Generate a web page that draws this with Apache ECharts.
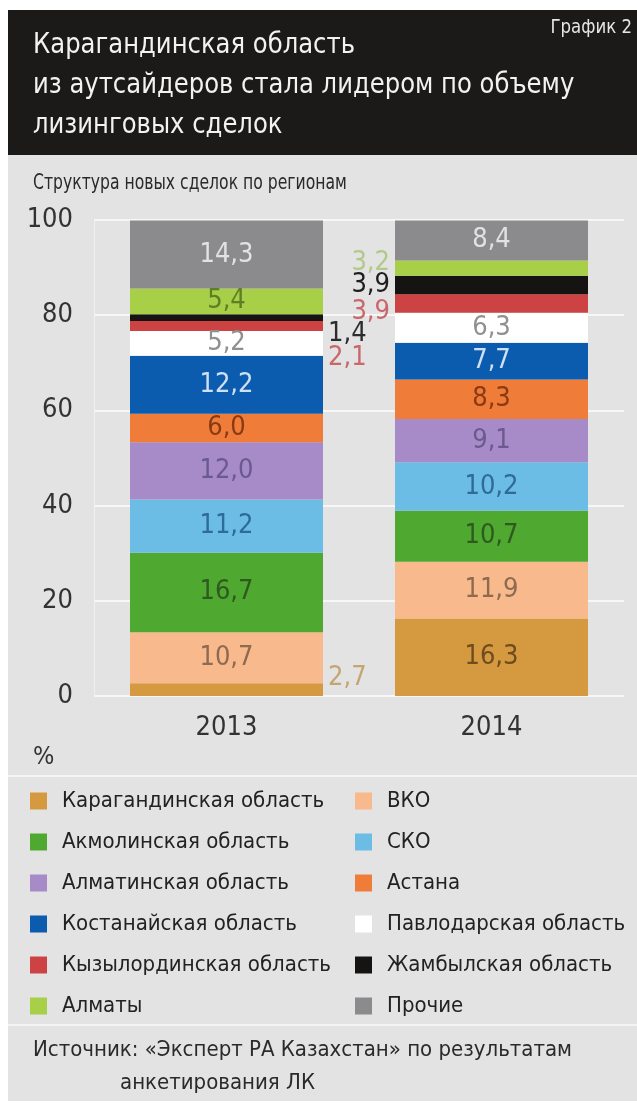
<!DOCTYPE html>
<html>
<head>
<meta charset="utf-8">
<script src="https://cdn.jsdelivr.net/npm/echarts@6/dist/echarts.min.js"></script>
<style>
html,body{margin:0;padding:0;background:#fff;}
#chart{width:637px;height:1103px;}
</style>
</head>
<body>
<div id="chart"></div>
<script>
const categories = ['2013', '2014'];
const regions = ['Карагандинская область', 'ВКО', 'Акмолинская область', 'СКО', 'Алматинская область', 'Астана', 'Костанайская область', 'Павлодарская область', 'Кызылординская область', 'Жамбылская область', 'Алматы', 'Прочие'];
const values2013 = [2.7, 10.7, 16.7, 11.2, 12.0, 6.0, 12.2, 5.2, 2.1, 1.4, 5.4, 14.3];
const values2014 = [16.3, 11.9, 10.7, 10.2, 9.1, 8.3, 7.7, 6.3, 3.9, 3.9, 3.2, 8.4];
const yTicks = [0, 20, 40, 60, 80, 100];
const titleText = 'Карагандинская область\nиз аутсайдеров стала лидером по объему\nлизинговых сделок';
const chartNo = 'График 2';
const subtitleText = 'Структура новых сделок по регионам';
const unitText = '%';
const sourceLine1 = 'Источник: «Эксперт РА Казахстан» по результатам';
const sourceLine2 = 'анкетирования ЛК';

const colors = ['#d59a3f', '#f8b98c', '#4fa82f', '#6cbde6', '#a68bc8', '#f07c3a', '#0b5bae', '#ffffff', '#cd4242', '#151413', '#a7cf48', '#8b8b8d'];
const labelColors = ['#6e4c1f', '#8e6a50', '#2f5a1f', '#2f6a98', '#6a5a8e', '#8a3a12', '#cfe0f5', '#909090', '#c9676b', '#2a2a2a', '#5e7f26', '#e2e2e2'];
// outside label placement: key = regionIndex-categoryIndex
const outside = {
  '0-0': { pos: 'right', off: [0, -12], color: '#c4a674' },
  '8-0': { pos: 'right', off: [0, 32], color: '#c9676b' },
  '9-0': { pos: 'right', off: [0, 16], color: '#2c2c2c' },
  '8-1': { pos: 'left', off: [0, 8], color: '#c9676b' },
  '9-1': { pos: 'left', off: [0, 0], color: '#1e1e1e' },
  '10-1': { pos: 'left', off: [0, -5], color: '#b3c98a' }
};

const FONT = '"DejaVu Sans Condensed", "Liberation Sans Narrow", sans-serif';
const fmt = v => Number(v).toFixed(1).replace('.', ',');
const allValues = [values2013, values2014];

const series = regions.map((name, i) => ({
  name: name,
  type: 'bar',
  stack: 'total',
  barWidth: 193,
  itemStyle: { color: colors[i] },
  label: {
    show: true, position: 'inside', color: labelColors[i],
    fontSize: 27, fontFamily: FONT, distance: 5,
    formatter: p => fmt(p.value)
  },
  emphasis: { disabled: true },
  data: categories.map((c, j) => {
    const v = allValues[j][i];
    const o = outside[i + '-' + j];
    return o ? { value: v, label: { position: o.pos, offset: o.off, color: o.color } } : v;
  })
}));

const leftNames = regions.filter((_, i) => i % 2 === 0);
const rightNames = regions.filter((_, i) => i % 2 === 1);
const legendBase = {
  orient: 'vertical', top: 784, itemWidth: 17, itemHeight: 17, itemGap: 17,
  icon: 'rect', selectedMode: false,
  textStyle: { fontFamily: FONT, fontSize: 22, color: '#222', lineHeight: 24, padding: [0, 0, 0, 10] }
};

const chart = echarts.init(document.getElementById('chart'), null, { renderer: 'canvas' });
chart.setOption({
  animation: false,
  backgroundColor: '#ffffff',
  graphic: [
    { type: 'rect', z: -10, shape: { x: 8, y: 155, width: 629, height: 946 }, style: { fill: '#e3e3e3' } },
    { type: 'rect', z: -9, shape: { x: 8, y: 10, width: 629, height: 145 }, style: { fill: '#1c1a18' } },
    { type: 'rect', z: -8, shape: { x: 8, y: 775, width: 629, height: 2 }, style: { fill: '#f4f4f4' } },
    { type: 'rect', z: -8, shape: { x: 8, y: 1024, width: 629, height: 2 }, style: { fill: '#f4f4f4' } },
    { type: 'text', x: 33, y: 26, scaleX: 0.965, style: { text: titleText, x: 0, y: 0, verticalAlign: 'top', fontFamily: FONT, fontSize: 28, lineHeight: 40, fill: '#f2f2f2' } },
    { type: 'text', x: 632, y: 19, scaleX: 0.97, style: { text: chartNo, x: 0, y: 0, align: 'right', verticalAlign: 'top', fontFamily: FONT, fontSize: 19, fill: '#e6e6e6' } },
    { type: 'text', x: 33, y: 171, scaleX: 0.79, style: { text: subtitleText, x: 0, y: 0, verticalAlign: 'top', fontFamily: FONT, fontSize: 22, lineHeight: 24, fill: '#2a2a2a' } },
    { type: 'text', left: 33, top: 745, style: { text: unitText, fontFamily: FONT, fontSize: 25, fill: '#333' } },
    { type: 'text', left: 33, top: 1039, style: { text: sourceLine1, fontFamily: FONT, fontSize: 22, fill: '#2a2a2a' } },
    { type: 'text', left: 120, top: 1072, style: { text: sourceLine2, fontFamily: FONT, fontSize: 22, fill: '#2a2a2a' } }
  ],
  legend: [
    Object.assign({}, legendBase, { left: 25, data: leftNames }),
    Object.assign({}, legendBase, { left: 350, data: rightNames })
  ],
  grid: { left: 94, right: 13, top: 220, bottom: 407, containLabel: false },
  xAxis: {
    type: 'category', data: categories,
    axisLine: { show: false }, axisTick: { show: false },
    axisLabel: { fontFamily: FONT, fontSize: 27, color: '#333', margin: 18 }
  },
  yAxis: {
    type: 'value', min: yTicks[0], max: yTicks[yTicks.length - 1], interval: yTicks[1] - yTicks[0],
    axisLine: { show: true, lineStyle: { color: '#f0f0f0', width: 1 } },
    axisTick: { show: false },
    splitLine: { show: true, lineStyle: { color: '#f7f7f7', width: 2 } },
    axisLabel: { fontFamily: FONT, fontSize: 27, color: '#333', margin: 21 }
  },
  series: series
});
</script>
</body>
</html>
